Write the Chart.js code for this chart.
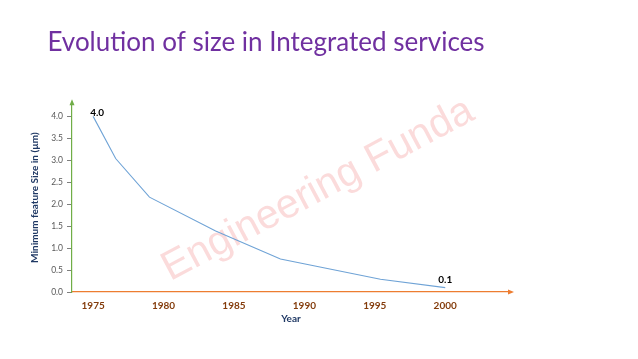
<!DOCTYPE html>
<html>
<head>
<meta charset="utf-8">
<script src="https://cdn.jsdelivr.net/npm/chart.js@4.4.1/dist/chart.umd.min.js"></script>
<style>
html,body{margin:0;padding:0;background:#fff;}
#wrap{width:638px;height:359px;position:relative;}
</style>
</head>
<body>
<div id="wrap"><canvas id="c" width="638" height="359"></canvas></div>
<script>
// ---- data ----
const years = [1975, 1976.6, 1979.0, 1983.7, 1988.3, 1995.4, 2000];
const featureSize = [4.0, 3.04, 2.16, 1.39, 0.75, 0.29, 0.1];
const xTickValues = [1975, 1980, 1985, 1990, 1995, 2000];
const yTickValues = [0, 0.5, 1.0, 1.5, 2.0, 2.5, 3.0, 3.5, 4.0];
const labelledIndices = [0, 6];
const titleText = 'Evolution of size in Integrated services';
const xTitle = 'Year';
const yTitle = 'Minimum feature Size in (\u00b5m)';
const watermark = 'Engineering Funda';

const FONT = 'Lato, "Open Sans", sans-serif';

const extras = {
  id: 'extras',
  beforeDatasetsDraw(chart) {
    const ctx = chart.ctx;
    ctx.save();
    ctx.translate(318, 190);
    ctx.rotate(-28 * Math.PI / 180);
    ctx.font = '41px "Liberation Sans", Arial, sans-serif';
    ctx.fillStyle = 'rgba(235,90,90,0.22)';
    ctx.textAlign = 'center';
    ctx.textBaseline = 'middle';
    ctx.fillText(watermark, 0, 0);
    ctx.restore();
  },
  afterDatasetsDraw(chart) {
    const ctx = chart.ctx;
    const xs = chart.scales.x, ys = chart.scales.y;
    const a = chart.chartArea;
    ctx.save();
    ctx.fillStyle = '#70AD47';
    ctx.beginPath();
    ctx.moveTo(a.left, a.top - 4);
    ctx.lineTo(a.left - 2.5, a.top + 2);
    ctx.lineTo(a.left + 2.5, a.top + 2);
    ctx.closePath();
    ctx.fill();
    ctx.fillStyle = '#ED7D31';
    ctx.beginPath();
    ctx.moveTo(a.right + 4, a.bottom);
    ctx.lineTo(a.right - 2, a.bottom - 2.5);
    ctx.lineTo(a.right - 2, a.bottom + 2.5);
    ctx.closePath();
    ctx.fill();
    ctx.font = 'bold 10px ' + FONT;
    ctx.fillStyle = '#000';
    ctx.textAlign = 'center';
    ctx.textBaseline = 'middle';
    labelledIndices.forEach((i, k) => {
      const px = xs.getPixelForValue(years[i]);
      const py = ys.getPixelForValue(featureSize[i]);
      const dx = k === 0 ? 4 : 0;
      const dy = k === 0 ? -4 : -8;
      ctx.fillText(featureSize[i].toFixed(1), px + dx, py + dy);
    });
    ctx.restore();
  }
};

new Chart(document.getElementById('c'), {
  type: 'line',
  data: {
    datasets: [{
      data: years.map((y, i) => ({x: y, y: featureSize[i]})),
      borderColor: '#6FA3D6',
      borderWidth: 1.1,
      pointRadius: 0,
      tension: 0,
      fill: false
    }]
  },
  options: {
    responsive: false,
    animation: false,
    devicePixelRatio: 1,
    layout: { padding: { left: 22, right: 128, top: 0, bottom: 34 } },
    plugins: {
      legend: { display: false },
      tooltip: { enabled: false },
      title: {
        display: true,
        text: titleText,
        color: '#7030A0',
        font: { family: FONT, size: 26, weight: 'normal' },
        padding: { top: 27, bottom: 45 }
      }
    },
    scales: {
      x: {
        type: 'linear',
        min: 1973.5,
        max: 2004.6,
        afterBuildTicks: s => { s.ticks = xTickValues.map(v => ({value: v})); },
        afterFit: s => { s.height = 33; },
        border: { color: '#ED7D31', width: 1.2 },
        grid: { display: false, drawTicks: false },
        ticks: {
          color: '#843C0C',
          font: { family: FONT, size: 10, weight: 'bold' },
          padding: 8,
          maxRotation: 0,
          callback: v => String(v)
        },
        title: {
          display: true,
          text: xTitle,
          color: '#1F3864',
          font: { family: FONT, size: 10, weight: 'bold' },
          padding: { top: 1, bottom: 0 }
        }
      },
      y: {
        min: 0,
        max: 4.3,
        afterBuildTicks: s => { s.ticks = yTickValues.map(v => ({value: v})); },
        afterFit: s => { s.width = 50; },
        border: { color: '#70AD47', width: 1.2 },
        grid: { display: true, drawOnChartArea: false, drawTicks: true, tickLength: 5, color: '#7F7F7F' },
        ticks: {
          color: '#595959',
          font: { family: FONT, size: 8.5 },
          padding: 4,
          callback: v => Number(v).toFixed(1)
        },
        title: {
          display: true,
          text: yTitle,
          color: '#1F3864',
          font: { family: FONT, size: 10, weight: 'bold' },
          padding: { top: 7, bottom: 0 }
        }
      }
    }
  },
  plugins: [extras]
});
</script>
</body>
</html>
